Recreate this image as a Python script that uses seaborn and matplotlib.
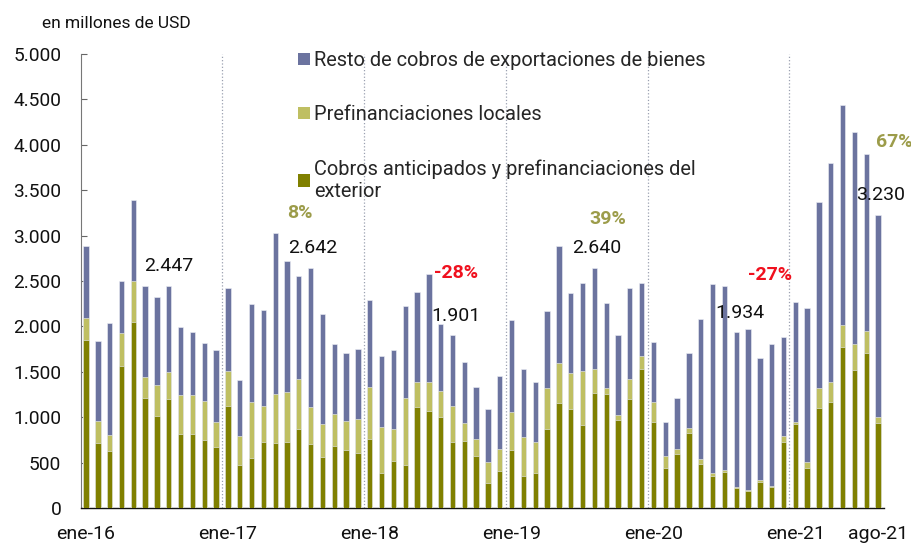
"""
Cobros de exportaciones de bienes, ene-16 a ago-21 (en millones de USD).
Barras apiladas mensuales con seaborn.
"""

import numpy as np
import pandas as pd
import matplotlib
matplotlib.use("Agg")
import matplotlib.pyplot as plt
from matplotlib.patches import Patch
import seaborn as sns

# ──────────────────────────────────────────────────────────────────────────────
# DATA
# ──────────────────────────────────────────────────────────────────────────────
MESES = ["ene", "feb", "mar", "abr", "may", "jun",
         "jul", "ago", "sep", "oct", "nov", "dic"]
months = [f"{m}-{y}" for y in range(16, 22) for m in MESES][:68]

# Cobros anticipados y prefinanciaciones del exterior
exterior = [1850, 720, 630, 1565, 2050, 1215, 1010, 1195, 815, 815, 750, 670,
            1125, 470, 555, 725, 715, 725, 865, 710, 565, 685, 640, 610,
            760, 380, 520, 475, 1110, 1065, 1005, 730, 740, 575, 280, 410,
            640, 355, 385, 875, 1160, 1085, 915, 1265, 1260, 970, 1205, 1535,
            945, 445, 600, 825, 490, 355, 395, 225, 190, 290, 235, 730,
            925, 445, 1100, 1170, 1775, 1520, 1705, 940]

# Prefinanciaciones locales
locales = [240, 235, 175, 360, 445, 225, 345, 305, 430, 435, 430, 275,
           380, 325, 610, 395, 545, 550, 560, 400, 360, 355, 315, 365,
           575, 510, 345, 740, 275, 325, 280, 395, 195, 180, 225, 240,
           420, 430, 340, 450, 440, 405, 595, 265, 65, 55, 215, 135,
           220, 130, 55, 55, 50, 25, 20, 10, 10, 15, 10, 65,
           20, 60, 225, 220, 240, 285, 245, 60]

# Resto de cobros de exportaciones de bienes
resto = [795, 885, 1230, 575, 900, 1000, 970, 947, 750, 685, 640, 790,
         915, 610, 1080, 1065, 1770, 1445, 1125, 1532, 1215, 765, 750, 780,
         960, 785, 880, 1015, 995, 1185, 740, 776, 670, 580, 585, 805,
         1005, 745, 660, 850, 1285, 875, 965, 1110, 930, 880, 1005, 810,
         665, 375, 560, 825, 1540, 2090, 2030, 1699, 1770, 1345, 1560, 1090,
         1320, 1700, 2050, 2415, 2425, 2335, 1950, 2230]

tick_labels = ["ene-16", "ene-17", "ene-18", "ene-19", "ene-20", "ene-21", "ago-21"]

# agosto de cada año + variación interanual
ago_labels = ["2.447", "2.642", "1.901", "2.640", "1.934", "3.230"]
var_labels = ["8%", "-28%", "39%", "-27%", "67%"]

SERIES = ["Resto de cobros de exportaciones de bienes",
          "Prefinanciaciones locales",
          "Cobros anticipados y prefinanciaciones del\nexterior"]
COLORS = ["#6b739f", "#bfbf62", "#808000"]
POS_COLOR = "#9c9c4a"
NEG_COLOR = "#f0101e"

# ──────────────────────────────────────────────────────────────────────────────
df = pd.DataFrame({"mes": months, "exterior": exterior,
                   "locales": locales, "resto": resto})
df["c_ext"] = df["exterior"]
df["c_loc"] = df["exterior"] + df["locales"]
df["c_tot"] = df["c_loc"] + df["resto"]

sns.set_theme(style="white")
plt.rcParams["font.family"] = ["Roboto", "DejaVu Sans"]

fig = plt.figure(figsize=(9.12, 5.44), dpi=100)
ax = fig.add_axes([80.7 / 912, 1 - 508 / 544, (884 - 80.7) / 912, (508 - 54) / 544])

# stacked bars: draw the cumulative totals back to front
for col, c in zip(["c_tot", "c_loc", "c_ext"], COLORS):
    sns.barplot(data=df, x="mes", y=col, color=c, saturation=1, width=0.45,
                edgecolor="#eef0f6", linewidth=0.4, ax=ax, zorder=3)

# dotted year separators
for x in np.arange(11.5, 67, 12):
    ax.axvline(x, color="#9aa0b0", linestyle=":", linewidth=0.9, zorder=1)

ax.set_xlim(-0.45, 67.5)
ax.set_ylim(0, 5000)
ax.set_yticks(range(0, 5001, 500))
ax.set_yticklabels([f"{v:,}".replace(",", ".") for v in range(0, 5001, 500)])
tick_pos = [months.index(t) for t in tick_labels]
ax.set_xticks(tick_pos)
ax.set_xticklabels(tick_labels)
ax.set_xlabel("")
ax.set_ylabel("")

ax.tick_params(axis="y", direction="in", length=4.5, width=0.8, color="#666666",
               labelsize=13.8, pad=14, left=True)
ax.tick_params(axis="x", length=0, labelsize=14, pad=12)
for lbl in ax.get_xticklabels() + ax.get_yticklabels():
    lbl.set_color("#111111")

for s in ["top", "right"]:
    ax.spines[s].set_visible(False)
ax.spines["left"].set_color("#777777")
ax.spines["left"].set_linewidth(0.8)
ax.spines["bottom"].set_color("#111111")
ax.spines["bottom"].set_linewidth(1.0)

fig.text(42 / 912, 1 - 23 / 544, "en millones de USD", fontsize=12.5,
         va="center", ha="left", color="#111111")

# annotations (text positions in data coords)
ago_pos = [(4.9, 2665), (17.1, 2867), (29.2, 2118),
           (41.1, 2860), (53.2, 2151), (65.1, 3447)]
for (x, y), t in zip(ago_pos, ago_labels):
    ax.text(x, y, t, fontsize=14, ha="left", va="center", color="#111111", zorder=5)

var_pos = [(17.0, 3249), (29.4, 2585), (42.6, 3180), (56.0, 2566), (66.8, 4034)]
for (x, y), t in zip(var_pos, var_labels):
    col = NEG_COLOR if t.startswith("-") else POS_COLOR
    ax.text(x, y, t, fontsize=14, ha="left", va="center", color=col,
            fontweight="bold", zorder=5, clip_on=False)

handles = [Patch(facecolor=c, edgecolor="none") for c in COLORS]
ax.legend(handles, SERIES, loc="upper left",
          bbox_to_anchor=(298 / 912, 1 - 51 / 544), bbox_transform=fig.transFigure,
          frameon=False, fontsize=14.4, borderpad=0, borderaxespad=0,
          handlelength=0.6, handleheight=0.6, handletextpad=0.2,
          labelspacing=1.75)

fig.savefig("out.png", dpi=100)
